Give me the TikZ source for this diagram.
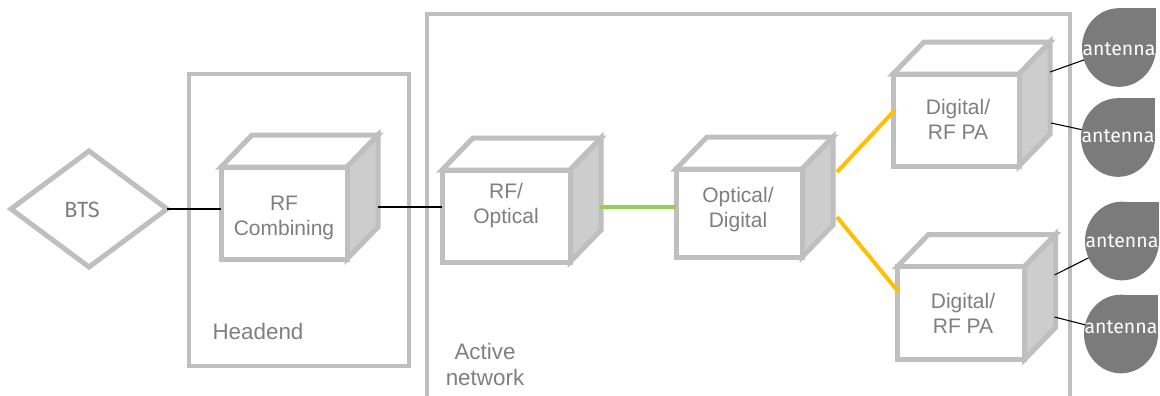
\documentclass[tikz,border=0pt]{standalone}
\usepackage{fontspec}
\setmainfont{Liberation Sans}
\newfontfamily\labelfont{Fira Sans}
\usetikzlibrary{shapes.geometric,backgrounds,calc}

\definecolor{framegray}{HTML}{BFBFBF}
\definecolor{sidegray}{HTML}{CDCDCD}
\definecolor{textgray}{HTML}{7F7F7F}
\definecolor{antgray}{HTML}{7B7B7B}
\definecolor{fibergreen}{HTML}{92D050}
\definecolor{linkyellow}{HTML}{FFC000}

\tikzset{
  frame/.style={draw=framegray, line width=3.2pt},
  cubeline/.style={draw=framegray, line width=3.75pt},
  cubefront/.style={rectangle, cubeline, fill=white, inner sep=0pt, outer sep=0pt},
  cubetext/.style={text=textgray, align=center, inner sep=0pt,
    font=\fontsize{15.75}{18.75}\selectfont},
  areatext/.style={text=textgray, align=center, inner sep=0pt,
    font=\fontsize{16.8}{19.5}\selectfont},
  btsshape/.style={diamond, draw=framegray, line width=3.75pt, fill=white,
    minimum width=117pt, minimum height=87pt, inner sep=0pt, outer sep=0pt},
  btstext/.style={text=textgray, inner sep=0pt, font=\labelfont\fontsize{16.5}{19}\selectfont},
  antshape/.style={ellipse, fill=antgray, minimum width=55.5pt, minimum height=59pt,
    inner sep=0pt, outer sep=0pt},
  anttext/.style={text=white, inner sep=0pt, font=\labelfont\fontsize{14.6}{17}\selectfont},
  wire/.style={draw=black, line width=0.8pt},
  fiber/.style={draw=fibergreen, line width=3pt},
  link/.style={draw=linkyellow, line width=3pt},
}

% box with a white top face and a grey right face, depth (31,-32)
\newcommand\cubebox[5]{%
  \node[cubefront, minimum width=#4, minimum height=#5] (#1) at (#2,#3) {};
  \begin{scope}[on background layer]
    \draw[cubeline, fill=white] (#1.north west) -- ++(31,-32)
      -- ([shift={(31,-32)}]#1.north east) -- (#1.north east) -- cycle;
    \draw[cubeline, fill=sidegray] (#1.north east) -- ++(31,-32)
      -- ([shift={(31,-32)}]#1.south east) -- (#1.south east) -- cycle;
  \end{scope}
}

% antenna: ellipse with a square top-right corner
\newcommand\antenna[3]{%
  \node[antshape] (#1) at (#2,#3) {};
  \begin{scope}[on background layer]
    \fill[antgray] (#1.center) rectangle (#1.east |- #1.north);
  \end{scope}
}

\begin{document}
\begin{tikzpicture}[x=0.75pt, y=-0.75pt]
\useasboundingbox (0,0) rectangle (1160,396);

% areas
\draw[frame] (189,74) rectangle (409,366);
\draw[frame] (427,396) -- (427,14) -- (1070,14) -- (1070,396);
\node[areatext] (headend) at (258,331) {Headend};
\node[areatext] (active) at (485,364) {Active\\network};

% base station
\node[btsshape] (bts) at (89,209) {};
\node[btstext] (bts-t) at (82,210) {BTS};

% equipment
\cubebox{rfc}{284}{213}{94.5pt}{69pt}
\node[cubetext] (rfc-t) at (284,218) {RF\\Combining};
\cubebox{rfo}{506}{216}{96pt}{69pt}
\node[cubetext] (rfo-t) at (506,206) {RF/\\Optical};
\cubebox{od}{739}{213}{94.5pt}{66pt}
\node[cubetext] (od-t) at (738,210) {Optical/\\Digital};
\cubebox{dg1}{956}{120}{94.5pt}{69pt}
\node[cubetext] (dg1-t) at (958,119) {Digital/\\RF PA};
\cubebox{dg2}{961}{313}{95.25pt}{69.75pt}
\node[cubetext] (dg2-t) at (963,313) {Digital/\\RF PA};

% antennas
\antenna{a1}{1119}{47.5}
\antenna{a2}{1118}{137.5}
\antenna{a3}{1122}{241}
\antenna{a4}{1121}{334}
\node[anttext] (a1-t) at (1119,49) {antenna};
\node[anttext] (a2-t) at (1118,136) {antenna};
\node[anttext] (a3-t) at (1122,241) {antenna};
\node[anttext] (a4-t) at (1121,327) {antenna};

% connection points on the back edges of the boxes
\coordinate (rfc-out) at ([shift={(31,-6)}]rfc.east);
\coordinate (rfo-out) at ([shift={(30,-9)}]rfo.east);
\coordinate (od-up) at ([shift={(35,-41)}]od.east);
\coordinate (od-down) at ([shift={(35,4)}]od.east);
\coordinate (dg1-in) at ([shift={(2,-10)}]dg1.west);
\coordinate (dg2-in) at ([shift={(1,-21)}]dg2.west);
\coordinate (dg1-a) at ([shift={(31,-48)}]dg1.east);
\coordinate (dg1-b) at ([shift={(32,3)}]dg1.east);
\coordinate (dg2-a) at ([shift={(30,-38)}]dg2.east);
\coordinate (dg2-b) at ([shift={(30,4)}]dg2.east);

% links
\draw[wire] (bts.east) -- (bts.east -| rfc.west);
\draw[wire] (rfc-out) -- (rfc-out -| rfo.west);
\draw[fiber] (rfo-out) -- (rfo-out -| od.west);
\draw[link] (od-up) -- (dg1-in);
\draw[link] (od-down) -- (dg2-in);
\draw[wire] (dg1-a) -- (a1);
\draw[wire] (dg1-b) -- (a2);
\draw[wire] (dg2-a) -- (a3);
\draw[wire] (dg2-b) -- (a4);
\end{tikzpicture}
\end{document}
